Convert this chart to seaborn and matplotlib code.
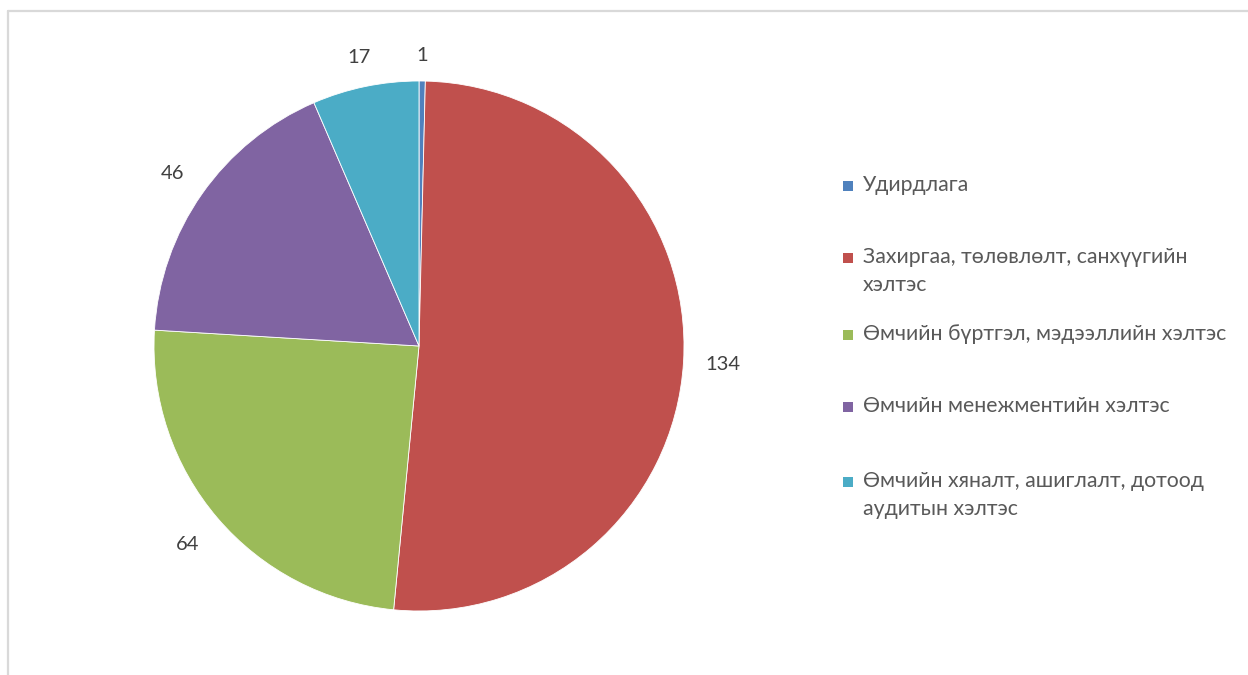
import matplotlib.pyplot as plt
import seaborn as sns
from matplotlib.patches import Rectangle

# data
departments = ['Удирдлага',
               'Захиргаа, төлөвлөлт, санхүүгийн\nхэлтэс',
               'Өмчийн бүртгэл, мэдээллийн хэлтэс',
               'Өмчийн менежментийн хэлтэс',
               'Өмчийн хяналт, ашиглалт, дотоод\nаудитын хэлтэс']
counts = [1, 134, 64, 46, 17]
colors = ['#4F81BD', '#C0504D', '#9BBB59', '#8064A2', '#4BACC6']

sns.set_theme(style='white')
plt.rcParams['font.family'] = ['Lato', 'Open Sans', 'DejaVu Sans']

W, H = 1248, 675
fig = plt.figure(figsize=(W / 100, H / 100), dpi=100)

# light gray chart frame (cropped at right/bottom)
fig.add_artist(plt.Line2D([8 / W, 8 / W], [0, 1 - 10.5 / H], color='#d9d9d9', lw=1.6))
fig.add_artist(plt.Line2D([8 / W, 1], [1 - 10.5 / H, 1 - 10.5 / H], color='#d9d9d9', lw=1.6))

# pie box: center (419, 346), radius 265 px
ax = fig.add_axes([154 / W, (H - 611) / H, 530 / W, 530 / H])
total = sum(counts)
wedges, _, autotexts = ax.pie(counts, colors=colors, startangle=90, counterclock=False,
                              autopct=lambda p: f'{round(p * total / 100)}',
                              pctdistance=1.0,
                              wedgeprops=dict(edgecolor='white', linewidth=0.6))
# value labels sit a bit closer to the rim for the small slices
label_dist = [1.095, 1.15, 1.15, 1.135, 1.11]
for t, d in zip(autotexts, label_dist):
    x, y = t.get_position()
    t.set_position((x * d, y * d))
    t.set_fontsize(14.5)
    t.set_color('#404040')
ax.set_xlim(-1, 1)
ax.set_ylim(-1, 1)
ax.set_aspect('equal')
ax.axis('off')

# legend drawn by hand so the marker sits on the first line
legend_y = [186, 258, 335, 407, 482]
for lab, col, y in zip(departments, colors, legend_y):
    fig.add_artist(Rectangle((843 / W, (H - y - 5) / H), 10 / W, 10 / H,
                             facecolor=col, edgecolor='none'))
    fig.text(863 / W, (H - y + 11) / H, lab, fontsize=15.3, color='#595959',
             ha='left', va='top', linespacing=1.5)

fig.savefig('out.png', dpi=100, facecolor='white')
